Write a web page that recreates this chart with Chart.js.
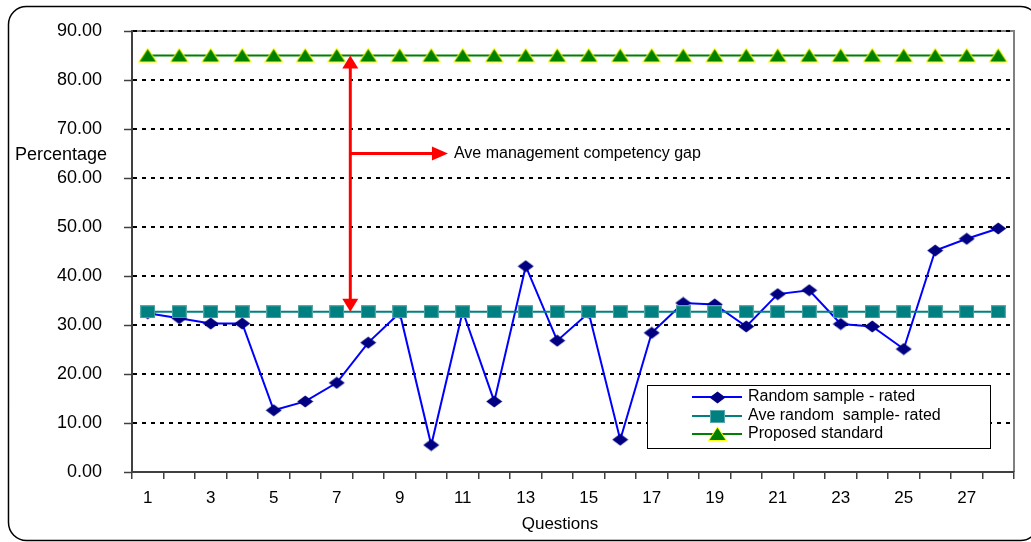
<!DOCTYPE html>
<html>
<head>
<meta charset="utf-8">
<title>Management competency gap</title>
<script src="https://cdn.jsdelivr.net/npm/chart.js@4.4.1/dist/chart.umd.min.js"></script>
<style>
  html, body { margin: 0; padding: 0; background: #ffffff; }
  canvas { display: block; }
</style>
</head>
<body>
<canvas id="gapChart" width="1031" height="542"></canvas>
<script>
// Question numbers along the x axis
const questions = ['1','2','3','4','5','6','7','8','9','10','11','12','13','14',
                   '15','16','17','18','19','20','21','22','23','24','25','26','27','28'];

// Rated percentage per question for the random sample
const randomSampleRated = [32.4, 31.4, 30.3, 30.3, 12.6, 14.4, 18.2, 26.4, 32.5, 5.5,
                           32.8, 14.4, 42.0, 26.8, 32.5, 6.6, 28.4, 34.5, 34.2, 29.7,
                           36.3, 37.1, 30.2, 29.7, 25.1, 45.2, 47.6, 49.7];

// Average rating of the random sample
const aveRandomSampleRated = [32.7, 32.7, 32.7, 32.7, 32.7, 32.7, 32.7, 32.7, 32.7, 32.7,
                              32.7, 32.7, 32.7, 32.7, 32.7, 32.7, 32.7, 32.7, 32.7, 32.7,
                              32.7, 32.7, 32.7, 32.7, 32.7, 32.7, 32.7, 32.7];

// Proposed standard
const proposedStandard = [85, 85, 85, 85, 85, 85, 85, 85, 85, 85,
                          85, 85, 85, 85, 85, 85, 85, 85, 85, 85,
                          85, 85, 85, 85, 85, 85, 85, 85];

// Value axis range
const yMin = 0;
const yMax = 90;
const yStep = 10;

// Gap annotation: spans from the average up to the standard
const gapFrom = 32.7;
const gapTo = 85;
const gapPointerLevel = 65;
const gapLabel = 'Ave management competency gap';

const FONT = '"Liberation Sans", Arial, sans-serif';

// Marker images (slightly wider than tall)
function makeMarker(w, h, draw) {
  const c = document.createElement('canvas');
  c.width = w; c.height = h;
  draw(c.getContext('2d'));
  return c;
}
const diamondMarker = makeMarker(17, 13, g => {
  g.fillStyle = '#000080';
  g.beginPath();
  g.moveTo(0.5, 6.5); g.lineTo(8.5, 0.5); g.lineTo(16.5, 6.5); g.lineTo(8.5, 12.5);
  g.closePath(); g.fill();
});
const squareMarker = makeMarker(15, 13, g => {
  g.fillStyle = '#008080';
  g.fillRect(0.5, 0.5, 14, 12);
  g.strokeStyle = '#5aa9a9';
  g.lineWidth = 1;
  g.strokeRect(0.5, 0.5, 14, 12);
});
const triangleMarker = makeMarker(19, 16, g => {
  g.beginPath();
  g.moveTo(9.5, 1.8); g.lineTo(17.5, 14); g.lineTo(1.5, 14);
  g.closePath();
  g.lineJoin = 'miter';
  g.lineWidth = 2;
  g.strokeStyle = '#FFFF00';
  g.stroke();
  g.fillStyle = '#008000';
  g.fill();
});

// Frame, y tick marks and axis captions
const framePlugin = {
  id: 'frame',
  beforeDraw(chart) {
    const { ctx, chartArea: a } = chart;
    ctx.save();
    ctx.fillStyle = '#ffffff';
    ctx.fillRect(0, 0, chart.width, chart.height);
    // rounded outer border
    ctx.strokeStyle = '#000000';
    ctx.lineWidth = 1.5;
    ctx.beginPath();
    ctx.roundRect(8.5, 6.5, 1030, 534, 18);
    ctx.stroke();
    // plot area border (top and right)
    ctx.strokeStyle = '#808080';
    ctx.lineWidth = 2;
    ctx.beginPath();
    ctx.moveTo(a.left, a.top);
    ctx.lineTo(a.right, a.top);
    ctx.lineTo(a.right, a.bottom);
    ctx.stroke();
    ctx.restore();
  },
  afterDraw(chart) {
    const { ctx, chartArea: a } = chart;
    const y = chart.scales.y;
    ctx.save();
    ctx.strokeStyle = '#404040';
    ctx.lineWidth = 1.5;
    y.ticks.forEach(t => {
      const py = Math.round(y.getPixelForValue(t.value)) + 0.5;
      ctx.beginPath();
      ctx.moveTo(a.left - 8, py);
      ctx.lineTo(a.left, py);
      ctx.stroke();
    });
    ctx.fillStyle = '#000000';
    ctx.font = '18px ' + FONT;
    ctx.textBaseline = 'middle';
    ctx.textAlign = 'left';
    ctx.fillText('Percentage', 15, 155);
    ctx.font = '17px ' + FONT;
    ctx.textAlign = 'center';
    ctx.fillText('Questions', 560, 524);
    ctx.restore();
  }
};

function arrowHead(ctx, tipX, tipY, dirX, dirY, len, half) {
  const bx = tipX - dirX * len, by = tipY - dirY * len;
  ctx.beginPath();
  ctx.moveTo(tipX, tipY);
  ctx.lineTo(bx - dirY * half, by + dirX * half);
  ctx.lineTo(bx + dirY * half, by - dirX * half);
  ctx.closePath();
  ctx.fill();
}

// Gap arrows, label and legend box
const overlayPlugin = {
  id: 'overlay',
  afterDatasetsDraw(chart) {
    const { ctx } = chart;
    const xs = chart.scales.x, ys = chart.scales.y;
    const ax = xs.getPixelForValue(6.43);
    const yTop = ys.getPixelForValue(gapTo);
    const yBot = ys.getPixelForValue(gapFrom);
    const yMid = ys.getPixelForValue(gapPointerLevel);
    const tipX = xs.getPixelForValue(9.53);
    ctx.save();
    ctx.strokeStyle = '#FF0000';
    ctx.fillStyle = '#FF0000';
    ctx.lineWidth = 3;
    ctx.beginPath();
    ctx.moveTo(ax, yTop + 10);
    ctx.lineTo(ax, yBot - 10);
    ctx.stroke();
    arrowHead(ctx, ax, yTop, 0, -1, 13, 8);
    arrowHead(ctx, ax, yBot, 0, 1, 13, 8);
    ctx.beginPath();
    ctx.moveTo(ax, yMid);
    ctx.lineTo(tipX - 12, yMid);
    ctx.stroke();
    arrowHead(ctx, tipX, yMid, 1, 0, 16, 7);
    ctx.fillStyle = '#000000';
    ctx.font = '16px ' + FONT;
    ctx.textAlign = 'left';
    ctx.textBaseline = 'middle';
    ctx.fillText(gapLabel, tipX + 6, yMid);

    // legend
    const L = 647.5, T = 385.5, W = 343, H = 63;
    ctx.fillStyle = '#ffffff';
    ctx.fillRect(L, T, W, H);
    ctx.strokeStyle = '#000000';
    ctx.lineWidth = 1;
    ctx.strokeRect(L, T, W, H);
    const rows = [397, 416, 434];
    chart.data.datasets.forEach((ds, i) => {
      const ry = rows[i];
      ctx.strokeStyle = ds.borderColor;
      ctx.lineWidth = 2;
      ctx.beginPath();
      ctx.moveTo(692, ry);
      ctx.lineTo(742, ry);
      ctx.stroke();
      const m = ds.pointStyle;
      ctx.drawImage(m, Math.round(717 - m.width / 2), Math.round(ry - m.height / 2));
      ctx.fillStyle = '#000000';
      ctx.font = '16px ' + FONT;
      ctx.fillText(ds.label, 748, ry);
    });
    ctx.restore();
  }
};

new Chart(document.getElementById('gapChart'), {
  type: 'line',
  data: {
    labels: questions,
    datasets: [
      {
        label: 'Random sample - rated',
        data: randomSampleRated,
        borderColor: '#0000FF',
        borderWidth: 2,
        pointStyle: diamondMarker,
        pointRadius: 7,
        order: 3,
        tension: 0
      },
      {
        label: 'Ave random  sample- rated',
        data: aveRandomSampleRated,
        borderColor: '#008080',
        borderWidth: 2,
        pointStyle: squareMarker,
        pointRadius: 7,
        order: 2,
        tension: 0
      },
      {
        label: 'Proposed standard',
        data: proposedStandard,
        borderColor: '#008000',
        borderWidth: 2,
        pointStyle: triangleMarker,
        pointRadius: 7,
        order: 1,
        tension: 0
      }
    ]
  },
  options: {
    responsive: false,
    animation: false,
    devicePixelRatio: 1,
    layout: { padding: { left: 0, top: 31, right: 17, bottom: 0 } },
    plugins: {
      legend: { display: false },
      tooltip: { enabled: false },
      title: { display: false }
    },
    scales: {
      x: {
        type: 'category',
        offset: true,
        grid: {
          offset: true,
          drawOnChartArea: false,
          drawTicks: true,
          tickLength: 7,
          color: '#404040',
          lineWidth: 1.5
        },
        border: { display: true, color: '#404040', width: 2 },
        ticks: {
          autoSkip: false,
          maxRotation: 0,
          minRotation: 0,
          padding: 9,
          color: '#000000',
          font: { family: FONT, size: 17 },
          callback: (v, i) => (i % 2 === 0 ? questions[i] : '')
        },
        afterFit: s => { s.height = 70; }
      },
      y: {
        min: yMin,
        max: yMax,
        grid: {
          drawTicks: true,
          tickLength: 30,
          tickColor: 'rgba(0,0,0,0)',
          color: '#000000',
          lineWidth: 2
        },
        border: { display: true, color: '#404040', width: 2, dash: [4, 5] },
        ticks: {
          stepSize: yStep,
          padding: 0,
          color: '#000000',
          font: { family: FONT, size: 18 },
          callback: v => Number(v).toFixed(2)
        },
        afterFit: s => { s.width = 132; }
      }
    }
  },
  plugins: [framePlugin, overlayPlugin]
});
</script>
</body>
</html>
